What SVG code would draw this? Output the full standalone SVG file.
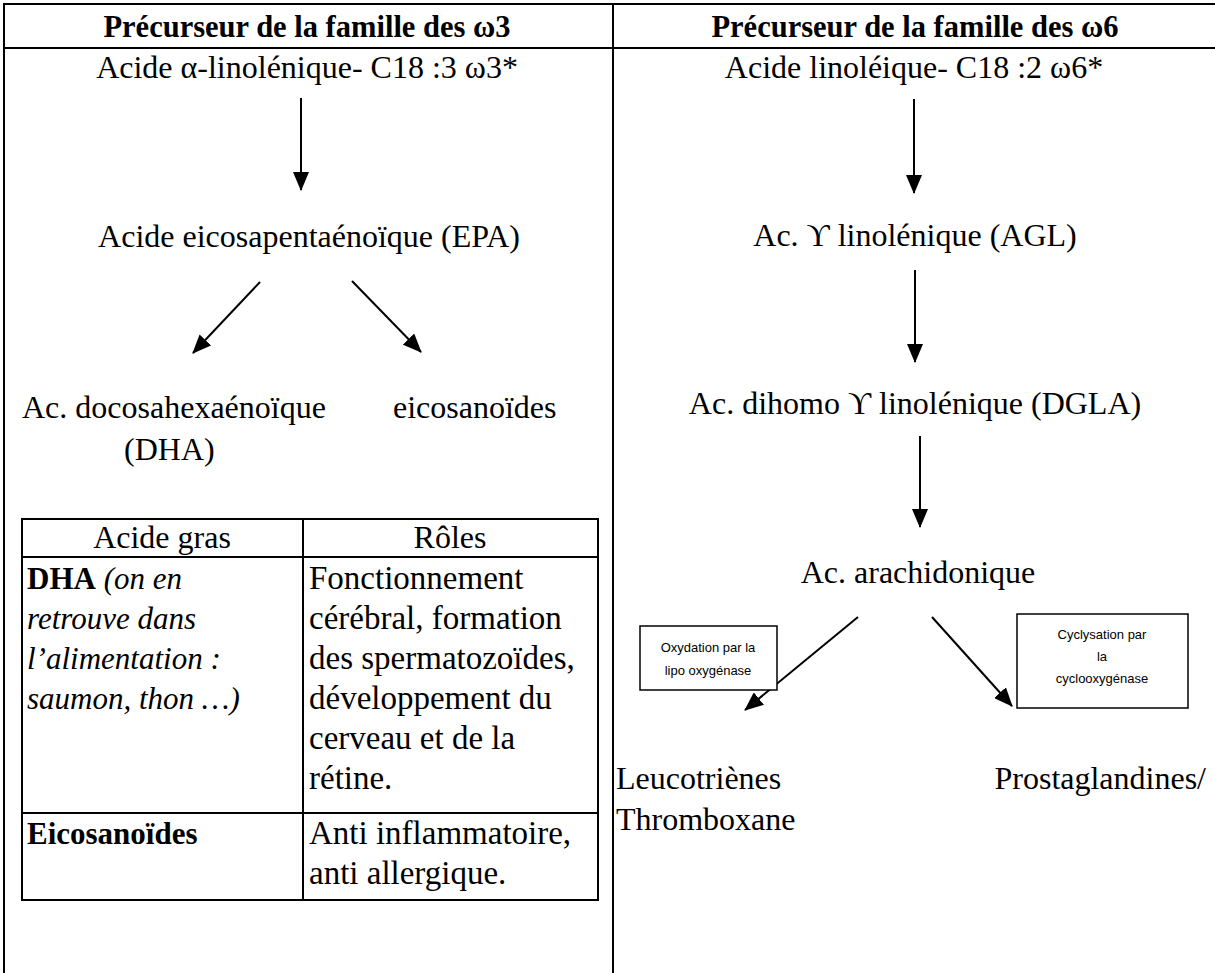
<svg xmlns="http://www.w3.org/2000/svg" width="1215" height="973" viewBox="0 0 1215 973">
<style>
  .t { font-family: "Liberation Serif", "Times New Roman", serif; font-size: 32px; fill: #000; }
  .th { font-size: 30.5px; }
  .tl { font-size: 31px; }
  .tr { font-size: 33px; }
  .b { font-weight: bold; }
  .i { font-style: italic; }
  .m { text-anchor: middle; }
  .s { font-family: "Liberation Sans", Arial, sans-serif; font-size: 13px; fill: #000; text-anchor: middle; }
  .ln { stroke: #000; stroke-width: 2; fill: none; }
  .arr { stroke: #000; stroke-width: 2; fill: none; marker-end: url(#ah); }
  .box { stroke: #000; stroke-width: 1.5; fill: #fff; }
</style>
<defs>
  <marker id="ah" markerUnits="userSpaceOnUse" markerWidth="19" markerHeight="16" viewBox="0 0 19 16" refX="18" refY="8" orient="auto">
    <path d="M0,0 L19,8 L0,16 Z" fill="#000"/>
  </marker>
</defs>
<rect width="1215" height="973" fill="#fff"/>

<g id="frame">
  <line class="ln" x1="3" y1="4" x2="1215" y2="4"/>
  <line class="ln" x1="3" y1="48" x2="1215" y2="48"/>
  <line class="ln" x1="4" y1="3" x2="4" y2="973"/>
  <line class="ln" x1="613" y1="3" x2="613" y2="973"/>
</g>

<g id="headers">
  <text class="t th b m" x="307" y="37">Précurseur de la famille des ω3</text>
  <text class="t th b m" x="915" y="37">Précurseur de la famille des ω6</text>
</g>

<g id="n-ala"><text class="t m" x="307" y="78">Acide α-linolénique- C18 :3 ω3*</text></g>
<g id="n-epa"><text class="t m" x="309" y="247">Acide eicosapentaénoïque (EPA)</text></g>
<g id="n-dha">
  <text class="t" x="22" y="418">Ac. docosahexaénoïque</text>
  <text class="t" x="124" y="460">(DHA)</text>
</g>
<g id="n-eico"><text class="t" x="393" y="418">eicosanoïdes</text></g>

<g id="roles-table">
  <rect class="ln" x="22" y="519" width="576" height="381"/>
  <line class="ln" x1="22" y1="557" x2="598" y2="557"/>
  <line class="ln" x1="22" y1="813" x2="598" y2="813"/>
  <line class="ln" x1="303" y1="519" x2="303" y2="900"/>
  <text class="t m" x="162" y="548">Acide gras</text>
  <text class="t m" x="450" y="548">Rôles</text>
  <text class="t tl" x="27" y="589"><tspan class="b">DHA</tspan> <tspan class="i">(on en</tspan></text>
  <text class="t tl i" x="27" y="629">retrouve dans</text>
  <text class="t tl i" x="27" y="669">l’alimentation :</text>
  <text class="t tl i" x="27" y="709">saumon, thon …)</text>
  <text class="t tr" x="309" y="589">Fonctionnement</text>
  <text class="t tr" x="309" y="629">cérébral, formation</text>
  <text class="t tr" x="309" y="669">des spermatozoïdes,</text>
  <text class="t tr" x="309" y="709">développement du</text>
  <text class="t tr" x="309" y="749">cerveau et de la</text>
  <text class="t tr" x="309" y="789">rétine.</text>
  <text class="t tl b" x="27" y="844">Eicosanoïdes</text>
  <text class="t tr" x="309" y="844">Anti inflammatoire,</text>
  <text class="t tr" x="309" y="884">anti allergique.</text>
</g>

<g id="n-la"><text class="t m" x="914" y="78">Acide linoléique- C18 :2 ω6*</text></g>
<g id="n-agl"><text class="t m" x="915" y="246">Ac. ϒ linolénique (AGL)</text></g>
<g id="n-dgla"><text class="t m" x="915" y="414">Ac. dihomo ϒ linolénique (DGLA)</text></g>
<g id="n-aa"><text class="t m" x="918" y="583">Ac. arachidonique</text></g>
<g id="n-leuco">
  <text class="t" x="616" y="789">Leucotriènes</text>
  <text class="t" x="616" y="830">Thromboxane</text>
</g>
<g id="n-prosta"><text class="t" x="1206" y="789" text-anchor="end">Prostaglandines/</text></g>

<g id="connectors">
  <line class="arr" x1="301" y1="98" x2="301" y2="190"/>
  <line class="arr" x1="260" y1="282" x2="193" y2="353"/>
  <line class="arr" x1="352" y1="281" x2="421" y2="352"/>
  <line class="arr" x1="914" y1="99" x2="914" y2="193"/>
  <line class="arr" x1="915" y1="270" x2="915" y2="362"/>
  <line class="arr" x1="920" y1="436" x2="920" y2="527"/>
  <line class="arr" x1="858" y1="617" x2="745" y2="710"/>
  <line class="arr" x1="932" y1="617" x2="1012" y2="706"/>
</g>

<g id="label-lipo">
  <rect class="box" x="640" y="626" width="137" height="64"/>
  <text class="s" x="708" y="652">Oxydation par la</text>
  <text class="s" x="708" y="675">lipo oxygénase</text>
</g>
<g id="label-cyclo">
  <rect class="box" x="1017" y="614" width="171" height="94"/>
  <text class="s" x="1102" y="639">Cyclysation par</text>
  <text class="s" x="1102" y="661">la</text>
  <text class="s" x="1102" y="683">cyclooxygénase</text>
</g>
</svg>
